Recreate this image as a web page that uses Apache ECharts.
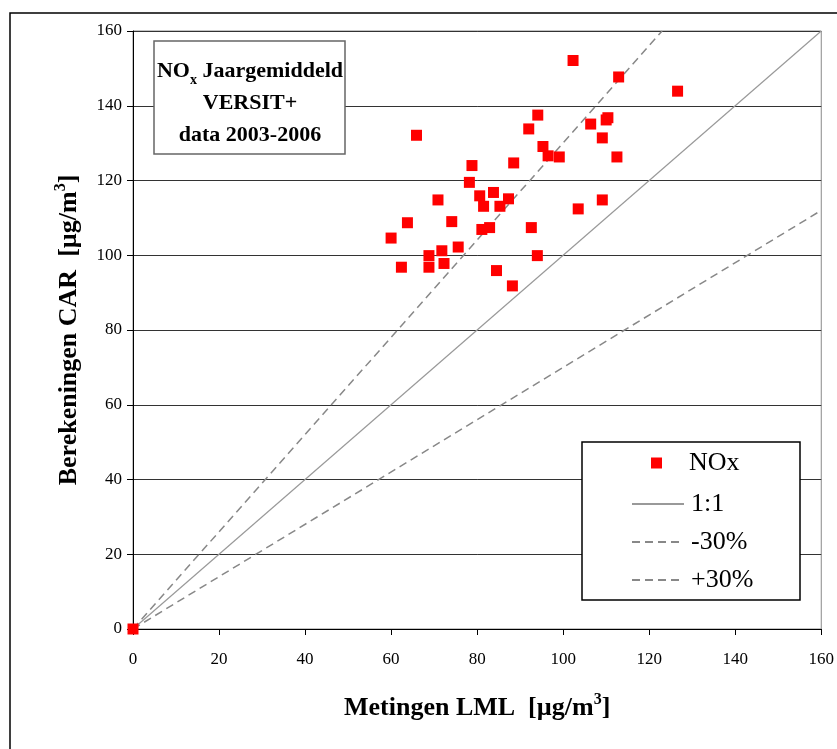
<!DOCTYPE html>
<html>
<head>
<meta charset="utf-8">
<script src="https://cdn.jsdelivr.net/npm/echarts@6/dist/echarts.min.js"></script>
<style>html,body{margin:0;padding:0;background:#fff;}#c{width:837px;height:749px;}</style>
</head>
<body>
<div id="c"></div>
<script>
// Measured (LML) vs calculated (CAR) NOx yearly means
const measX = [0, 60.0, 62.4, 63.8, 65.9, 68.8, 68.8, 70.9, 71.8, 72.3, 74.1, 75.6, 78.2, 78.8, 80.6, 81.1, 81.5, 82.9, 83.8, 84.5, 85.3, 87.3, 88.2, 88.5, 92.0, 92.6, 94.1, 94.0, 95.3, 96.5, 99.1, 102.3, 103.5, 106.4, 109.1, 109.1, 110.0, 110.4, 112.5, 112.9, 126.6];
const calcY = [0, 104.6, 96.8, 108.7, 132.1, 99.9, 96.8, 114.8, 101.2, 97.8, 109.0, 102.2, 119.5, 124.0, 115.9, 106.9, 113.1, 107.4, 116.8, 95.9, 113.1, 115.1, 91.8, 124.7, 133.8, 107.4, 137.5, 99.9, 129.1, 126.6, 126.3, 152.1, 112.4, 135.1, 114.8, 131.4, 136.2, 136.8, 126.3, 147.7, 143.9];
const lineOneToOne = [[0, 0], [160, 160]];
const lineMinus30 = [[0, 0], [160, 112]];
const linePlus30 = [[0, 0], [123, 160]];
const axisTicks = [0, 20, 40, 60, 80, 100, 120, 140, 160];
const seriesNames = ['NOx', '1:1', '-30%', '+30%'];

const serif = "'Liberation Serif', 'Times New Roman', serif";
const chart = echarts.init(document.getElementById('c'));
const points = measX.map((x, i) => [x, calcY[i]]);

const axisCommon = {
  type: 'value',
  min: axisTicks[0],
  max: axisTicks[axisTicks.length - 1],
  interval: axisTicks[1] - axisTicks[0],
  axisLine: { show: true, lineStyle: { color: '#000', width: 1 } },
  axisTick: { show: true, inside: false, length: 6, lineStyle: { color: '#000' } },
  axisLabel: { fontFamily: serif, fontSize: 17, color: '#000' },
  nameLocation: 'middle',
  nameTextStyle: {
    fontFamily: serif, fontSize: 26, fontWeight: 'bold', color: '#000',
    rich: { sup: { fontFamily: serif, fontSize: 16, fontWeight: 'bold', color: '#000', verticalAlign: 'top', lineHeight: 32 } }
  }
};

chart.setOption({
  animation: false,
  backgroundColor: '#fff',
  grid: { left: 133, right: 12, top: 31, bottom: 120, show: true, borderColor: '#888', borderWidth: 1, containLabel: false },
  xAxis: Object.assign({}, axisCommon, {
    name: 'Metingen LML  [µg/m{sup|3}]',
    nameGap: 63,
    splitLine: { show: false },
    axisLabel: Object.assign({}, axisCommon.axisLabel, { margin: 22 })
  }),
  yAxis: Object.assign({}, axisCommon, {
    name: 'Berekeningen CAR  [µg/m{sup|3}]',
    nameGap: 48,
    splitLine: { show: true, lineStyle: { color: '#333', width: 1 } },
    axisLabel: Object.assign({}, axisCommon.axisLabel, { margin: 11 })
  }),
  legend: [
    {
      data: [seriesNames[0]], left: 646, top: 445, orient: 'vertical',
      itemWidth: 11, itemHeight: 11, icon: 'rect', z: 10,
      textStyle: { fontFamily: serif, fontSize: 26, color: '#000', padding: [0, 0, 0, 22] }
    },
    {
      data: seriesNames.slice(1), left: 626, top: 486, orient: 'vertical',
      itemWidth: 52, itemHeight: 12, itemGap: 12, z: 10,
      itemStyle: { opacity: 0 },
      textStyle: { fontFamily: serif, fontSize: 26, color: '#000', padding: [0, 0, 0, 2] }
    }
  ],
  graphic: [
    { type: 'rect', z: 1, silent: true,
      shape: { x: 10, y: 13, width: 840, height: 750 },
      style: { fill: 'none', stroke: '#000', lineWidth: 1.5 } },
    { type: 'rect', z: 5,
      shape: { x: 154, y: 41, width: 191, height: 113 },
      style: { fill: '#fff', stroke: '#666', lineWidth: 1.5 } },
    { type: 'text', z: 6, x: 250, y: 55,
      style: {
        text: '{b|NO}{s|x}{b| Jaargemiddeld}\n{b|VERSIT+}\n{b|data 2003-2006}',
        x: 0, y: 0, textAlign: 'center', textVerticalAlign: 'top', verticalAlign: 'top',
        rich: {
          b: { fontFamily: serif, fontSize: 22, fontWeight: 'bold', fill: '#000', lineHeight: 32 },
          s: { fontFamily: serif, fontSize: 14, fontWeight: 'bold', fill: '#000', lineHeight: 16, verticalAlign: 'bottom' }
        }
      } },
    { type: 'rect', z: 5,
      shape: { x: 582, y: 442, width: 218, height: 158 },
      style: { fill: '#fff', stroke: '#000', lineWidth: 1.5 } }
  ],
  series: [
    { name: seriesNames[0], type: 'scatter', data: points, symbol: 'rect', symbolSize: 11,
      itemStyle: { color: '#ff0000', opacity: 1 }, clip: false, z: 4 },
    { name: seriesNames[1], type: 'line', data: lineOneToOne, symbol: 'none', showSymbol: false,
      lineStyle: { color: '#999', width: 1.2, type: 'solid' }, itemStyle: { color: '#999', opacity: 0 }, z: 3 },
    { name: seriesNames[2], type: 'line', data: lineMinus30, symbol: 'none', showSymbol: false,
      lineStyle: { color: '#888', width: 1.5, type: [8, 5] }, itemStyle: { color: '#888', opacity: 0 }, z: 3 },
    { name: seriesNames[3], type: 'line', data: linePlus30, symbol: 'none', showSymbol: false,
      lineStyle: { color: '#888', width: 1.5, type: [8, 5] }, itemStyle: { color: '#888', opacity: 0 }, z: 3 }
  ]
});
</script>
</body>
</html>
